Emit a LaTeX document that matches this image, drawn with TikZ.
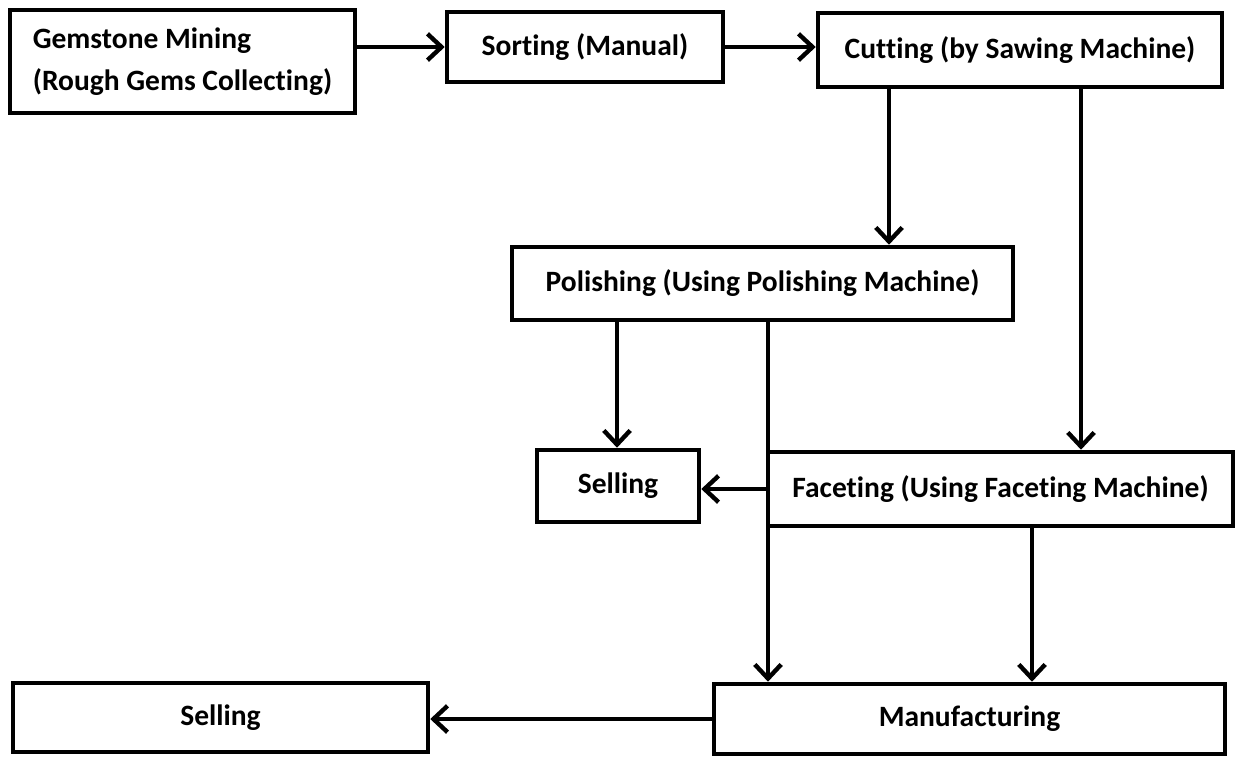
\documentclass[tikz,border=0pt]{standalone}
\usepackage{fontspec}
\setmainfont{Carlito}[Ligatures=NoCommon]
\usepackage{xcolor}
\usepackage{tikz}
\usetikzlibrary{calc,arrows.meta}
\definecolor{ink}{HTML}{000000}
\tikzset{box/.style={rectangle,draw=ink,line width=2.6pt,fill=white,inner sep=2pt,font=\fontsize{16.8}{24}\selectfont\bfseries},
arr/.style={ink,line width=2.5pt,-{Straight Barb[length=8pt,width=15pt]}}}

\begin{document}
\begin{tikzpicture}[x=0.02cm,y=-0.02cm]
\useasboundingbox (0,0) rectangle (1235,758);
\node[box,minimum width=6.9cm,minimum height=2.06cm,align=left] (gem) at (182.5,61.5) {Gemstone Mining\\(Rough Gems Collecting)};
\node[box,minimum width=5.52cm,minimum height=1.4cm] (sort) at (585,47) {Sorting (Manual)};
\node[box,minimum width=8.08cm,minimum height=1.48cm] (cut) at (1020,50) {Cutting (by Sawing Machine)};
\node[box,minimum width=10.02cm,minimum height=1.46cm] (pol) at (762.5,283.5) {Polishing (Using Polishing Machine)};
\node[box,minimum width=3.24cm,minimum height=1.44cm] (sellA) at (618,486) {Selling};
\node[box,minimum width=9.3cm,minimum height=1.48cm] (fac) at (1000.5,489) {Faceting (Using Faceting Machine)};
\node[box,minimum width=10.22cm,minimum height=1.4cm] (manuf) at (969.5,719) {Manufacturing};
\node[box,minimum width=8.3cm,minimum height=1.38cm] (sellB) at (220.5,717.5) {Selling};
\coordinate (cutL) at (889,0); \coordinate (cutR) at (1081,0);
\coordinate (polL) at (617,0); \coordinate (polR) at (768,0);
\coordinate (facM) at (1032,0);
\draw[arr] (gem.east |- sort.west) -- (sort.west);
\draw[arr] (sort.east) -- (sort.east -| cut.west);
\draw[arr] (cut.south -| cutL) -- (pol.north -| cutL);
\draw[arr] (cut.south -| cutR) -- (fac.north -| cutR);
\draw[arr] (pol.south -| polL) -- (sellA.north -| polL);
\draw[arr] (pol.south -| polR) -- (manuf.north -| polR);
\draw[arr] (fac.west) -- (fac.west -| sellA.east);
\draw[arr] (fac.south -| facM) -- (manuf.north -| facM);
\draw[arr] (manuf.west) -- (manuf.west -| sellB.east);
\end{tikzpicture}
\end{document}
